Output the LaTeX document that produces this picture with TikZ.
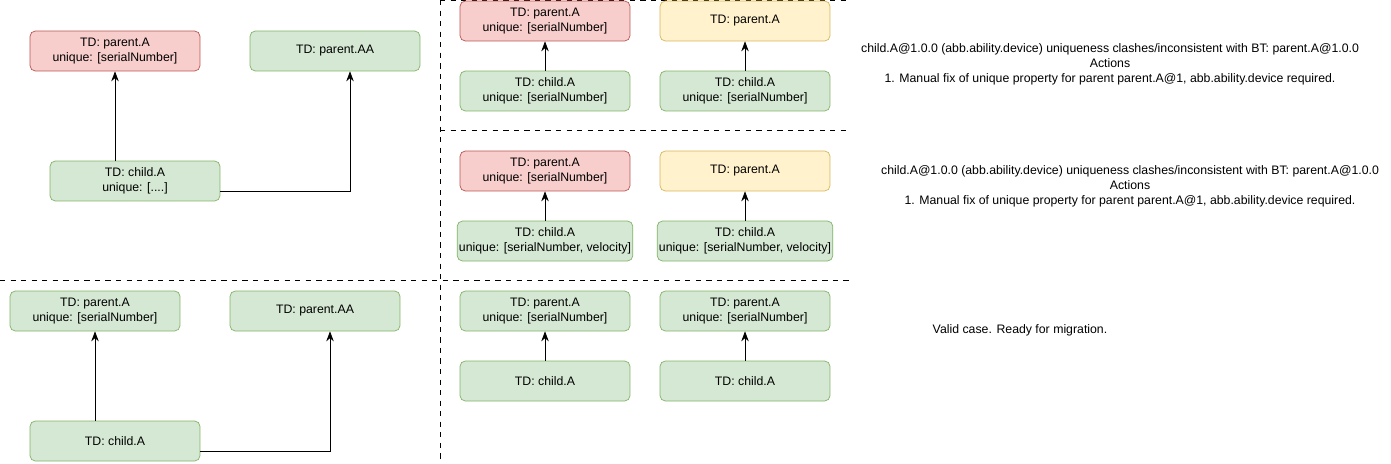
\documentclass[tikz,border=0pt]{standalone}
\usepackage{fontspec}
\setmainfont{Liberation Sans}
\usetikzlibrary{arrows.meta,positioning}

\tikzset{
  box/.style={draw,rounded corners=3pt,minimum width=3.4cm,minimum height=0.8cm,align=center,inner sep=1pt,font=\fontsize{7}{8.5}\selectfont},
  bad/.style={box,fill=red!20!white,draw=red!55!black!80},
  good/.style={box,fill=green!15!white!95!black,draw=green!45!black!70},
  warn/.style={box,fill=yellow!20!white,draw=yellow!60!black},
  link/.style={-{Stealth[length=2mm]}},
  sep/.style={dashed,thin},
  note/.style={align=center,font=\fontsize{7}{8.5}\selectfont}
}
\definecolor{redfill}{HTML}{F8CECC}\definecolor{redline}{HTML}{B85450}
\definecolor{greenfill}{HTML}{D5E8D4}\definecolor{greenline}{HTML}{82B366}
\definecolor{yellowfill}{HTML}{FFF2CC}\definecolor{yellowline}{HTML}{D6B656}
\tikzset{
  bad/.style={box,fill=redfill,draw=redline},
  good/.style={box,fill=greenfill,draw=greenline},
  warn/.style={box,fill=yellowfill,draw=yellowline}
}

\begin{document}
\begin{tikzpicture}[x=0.02cm,y=-0.02cm]
\useasboundingbox (0,0) rectangle (1391,463);

% separators
\draw[sep] (440,0) -- (440,463);
\draw[sep] (440,0) -- (850,0);
\draw[sep] (440,130) -- (850,130);
\draw[sep] (0,280) -- (850,280);

% left top
\node[bad] (lpA) at (115,51) {TD: parent.A\\unique: [serialNumber]};
\node[good] (lpAA) at (335,51) {TD: parent.AA};
\node[good] (lc) at (135,181) {TD: child.A\\unique: [....]};
\coordinate (lcA) at (115,161);
\coordinate (lcB) at (220,191);
\draw[link] (lcA) -- (lcA |- lpA.south);
\draw[link] (lcB) -| (lpAA.south -| 350,0);

% left bottom
\node[good] (bpA) at (95,311) {TD: parent.A\\unique: [serialNumber]};
\node[good] (bpAA) at (315,311) {TD: parent.AA};
\node[good] (bc) at (115,441) {TD: child.A};
\coordinate (bcA) at (95,421);
\coordinate (bcB) at (200,451);
\draw[link] (bcA) -- (bcA |- bpA.south);
\draw[link] (bcB) -| (bpAA.south -| 330,0);

% right row 1
\node[bad] (p11) at (545,21) {TD: parent.A\\unique: [serialNumber]};
\node[good] (c11) at (545,91) {TD: child.A\\unique: [serialNumber]};
\node[warn] (p12) at (745,21) {TD: parent.A};
\node[good] (c12) at (745,91) {TD: child.A\\unique: [serialNumber]};
% right row 2
\node[bad] (p21) at (545,171) {TD: parent.A\\unique: [serialNumber]};
\node[good] (c21) at (545,241) {TD: child.A\\unique: [serialNumber, velocity]};
\node[warn] (p22) at (745,171) {TD: parent.A};
\node[good] (c22) at (745,241) {TD: child.A\\unique: [serialNumber, velocity]};
% right row 3
\node[good] (p31) at (545,311) {TD: parent.A\\unique: [serialNumber]};
\node[good] (c31) at (545,381) {TD: child.A};
\node[good] (p32) at (745,311) {TD: parent.A\\unique: [serialNumber]};
\node[good] (c32) at (745,381) {TD: child.A};

\foreach \r in {1,2,3}{
  \foreach \c in {1,2}{
    \draw[link] (c\r\c) -- (p\r\c);
  }
}

% notes
\node[note] (n1) at (1110,64) {child.A@1.0.0 (abb.ability.device) uniqueness clashes/inconsistent with BT: parent.A@1.0.0\\Actions\\1. Manual fix of unique property for parent parent.A@1, abb.ability.device required.};
\node[note] (n2) at (1130,186) {child.A@1.0.0 (abb.ability.device) uniqueness clashes/inconsistent with BT: parent.A@1.0.0\\Actions\\1. Manual fix of unique property for parent parent.A@1, abb.ability.device required.};
\node[note] (n3) at (1020,330) {Valid case. Ready for migration.};
\end{tikzpicture}
\end{document}
